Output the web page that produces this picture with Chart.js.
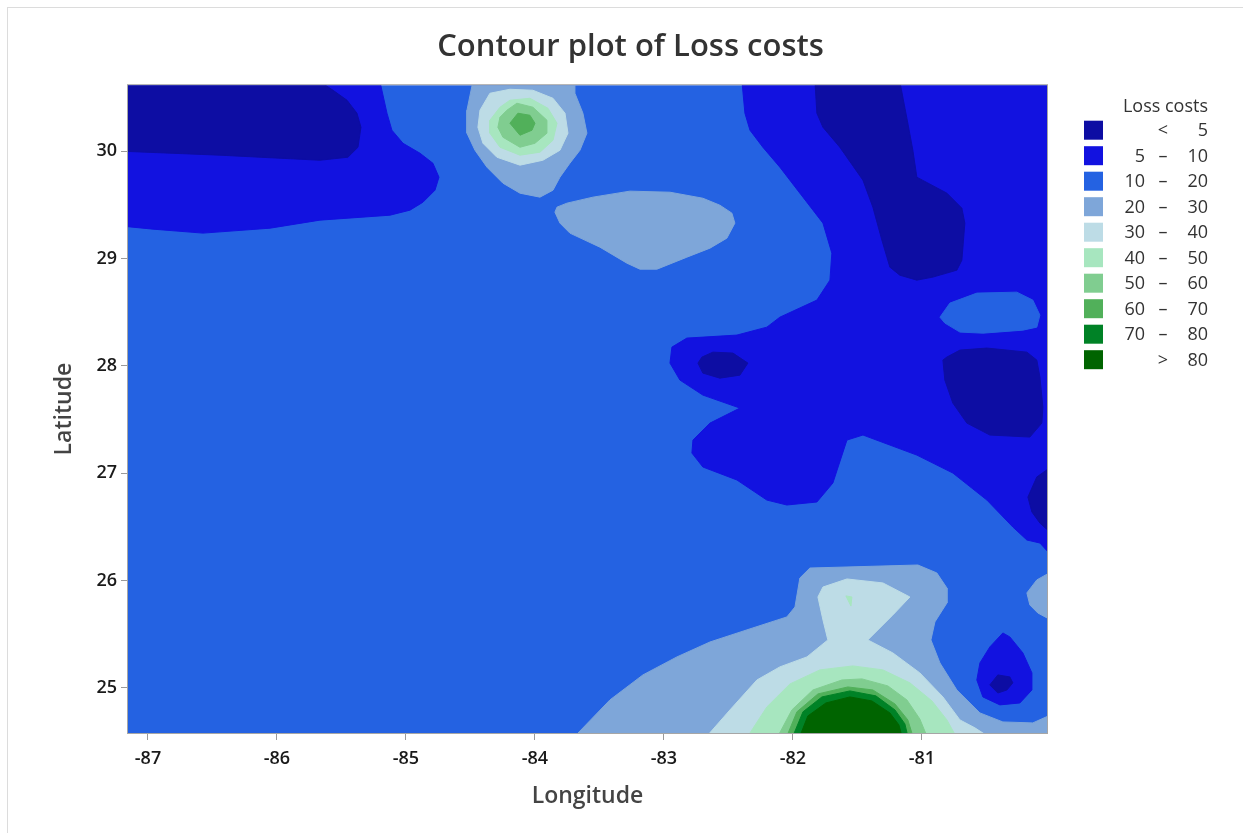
<!DOCTYPE html>
<html>
<head>
<meta charset="utf-8">
<title>Contour plot of Loss costs</title>
<script src="https://cdn.jsdelivr.net/npm/chart.js@4.4.1/dist/chart.umd.min.js"></script>
<style>
  html, body { margin: 0; padding: 0; background: #fff; overflow: hidden; }
  #frame { position: absolute; left: 7px; top: 7px; width: 1260px; height: 850px; border: 1px solid #dcdcdc; }
  #wrap { position: absolute; left: 0; top: 0; width: 1243px; height: 833px; }
</style>
</head>
<body>
<div id="frame"></div>
<div id="wrap"><canvas id="contour-chart"></canvas></div>
<script>
/*****************************************
 * 1. DATA (longitude, latitude outlines of each contour band)
 *****************************************/
const chartTitle = 'Contour plot of Loss costs';
const legendTitle = 'Loss costs';
const xTitle = 'Longitude';
const yTitle = 'Latitude';

const lonRange = [-87.155, -80.03];
const latRange = [24.58, 30.615];

// band labels: [low, sign, high]
const bandLabels = [
  ['', '<', '5'], ['5', '–', '10'], ['10', '–', '20'], ['20', '–', '30'], ['30', '–', '40'],
  ['40', '–', '50'], ['50', '–', '60'], ['60', '–', '70'], ['70', '–', '80'], ['', '>', '80']
];
const bandColors = ['#0d0da3', '#1212e0', '#2462e2', '#7ea6d9', '#bddce6',
                    '#a7e6bf', '#80cd90', '#51b05a', '#008226', '#006400'];

// whole domain, band 10-20
const domain = [[-87.2, 24.55], [-87.2, 30.65], [-80.0, 30.65], [-80.0, 24.55]];

// 5-10
const westLow = [[-87.2, 30.65], [-85.202, 30.65], [-85.147, 30.354], [-85.109, 30.196], [-85.023, 30.074],
  [-84.891, 29.981], [-84.791, 29.888], [-84.744, 29.758], [-84.775, 29.637], [-84.868, 29.525],
  [-84.969, 29.451], [-85.124, 29.404], [-85.667, 29.358], [-86.054, 29.283], [-86.574, 29.237],
  [-86.961, 29.274], [-87.2, 29.302]];
const eastLow = [[-82.395, 30.65], [-82.372, 30.354], [-82.333, 30.196], [-82.233, 30.037], [-82.101, 29.851],
  [-81.946, 29.609], [-81.767, 29.330], [-81.698, 29.050], [-81.713, 28.799], [-81.814, 28.613],
  [-82.101, 28.454], [-82.202, 28.361], [-82.434, 28.287], [-82.822, 28.259], [-82.938, 28.175],
  [-82.953, 28.026], [-82.876, 27.868], [-82.698, 27.728], [-82.411, 27.607], [-82.643, 27.467],
  [-82.775, 27.309], [-82.783, 27.188], [-82.698, 27.058], [-82.434, 26.937], [-82.202, 26.750],
  [-82.047, 26.704], [-81.814, 26.732], [-81.690, 26.909], [-81.581, 27.309], [-81.457, 27.356],
  [-81.039, 27.169], [-80.760, 27.002], [-80.496, 26.750], [-80.295, 26.499], [-80.186, 26.378],
  [-80.085, 26.350], [-80.0, 26.238], [-80.0, 30.65]];
const southEastLow = [[-80.372, 25.512], [-80.473, 25.382], [-80.550, 25.233], [-80.574, 25.074], [-80.527, 24.916],
  [-80.395, 24.842], [-80.240, 24.860], [-80.147, 24.981], [-80.147, 25.140], [-80.217, 25.326], [-80.318, 25.475]];

// 10-20 pocket inside the east low
const eastPocket = [[-80.860, 28.454], [-80.783, 28.585], [-80.574, 28.678], [-80.264, 28.687], [-80.140, 28.613],
  [-80.085, 28.473], [-80.109, 28.361], [-80.217, 28.333], [-80.527, 28.305], [-80.705, 28.315], [-80.822, 28.399]];

// < 5
const northWestMin = [[-87.2, 30.65], [-85.667, 30.65], [-85.566, 30.568], [-85.457, 30.475], [-85.380, 30.354],
  [-85.349, 30.223], [-85.372, 30.037], [-85.450, 29.944], [-85.667, 29.916], [-86.442, 29.963], [-87.2, 30.0]];
const northEastMin = [[-81.829, 30.65], [-81.814, 30.354], [-81.767, 30.223], [-81.636, 30.037], [-81.457, 29.730],
  [-81.380, 29.479], [-81.310, 29.171], [-81.248, 28.920], [-81.171, 28.845], [-81.039, 28.799],
  [-80.915, 28.827], [-80.729, 28.892], [-80.690, 28.985], [-80.667, 29.330], [-80.690, 29.469],
  [-80.806, 29.609], [-81.039, 29.758], [-81.070, 30.009], [-81.109, 30.261], [-81.171, 30.65]];
const centralMin = [[-82.736, 28.026], [-82.698, 27.933], [-82.566, 27.886], [-82.411, 27.914], [-82.349, 28.026],
  [-82.465, 28.119], [-82.620, 28.128], [-82.705, 28.082]];
const eastMin = [[-80.837, 28.054], [-80.822, 27.868], [-80.760, 27.654], [-80.651, 27.467], [-80.473, 27.356],
  [-80.163, 27.337], [-80.070, 27.467], [-80.062, 27.616], [-80.085, 27.896], [-80.109, 28.054],
  [-80.186, 28.128], [-80.496, 28.166], [-80.705, 28.147], [-80.806, 28.082]];
const coastMin = [[-80.0, 27.058], [-80.109, 26.965], [-80.178, 26.778], [-80.147, 26.639], [-80.085, 26.536], [-80.0, 26.443]];
const southEastMin = [[-80.473, 25.028], [-80.411, 25.121], [-80.318, 25.102], [-80.295, 25.047], [-80.341, 24.981], [-80.411, 24.953]];

// north peak rings (> 20 ... > 60)
const northRing20 = [[-84.481, 30.65], [-84.527, 30.382], [-84.527, 30.168], [-84.465, 30.009], [-84.372, 29.851],
  [-84.248, 29.702], [-84.116, 29.609], [-83.961, 29.572], [-83.860, 29.637], [-83.806, 29.758],
  [-83.729, 29.888], [-83.651, 30.009], [-83.597, 30.168], [-83.628, 30.354], [-83.690, 30.540], [-83.690, 30.65]];
const northRing30 = [[-84.349, 30.540], [-84.426, 30.382], [-84.442, 30.223], [-84.403, 30.074], [-84.295, 29.944],
  [-84.116, 29.870], [-83.938, 29.916], [-83.806, 30.009], [-83.744, 30.168], [-83.767, 30.354],
  [-83.860, 30.493], [-84.016, 30.568], [-84.194, 30.577]];
const northRing40 = [[-84.271, 30.410], [-84.349, 30.289], [-84.349, 30.168], [-84.271, 30.037], [-84.116, 29.963],
  [-83.961, 29.991], [-83.860, 30.102], [-83.829, 30.261], [-83.899, 30.400], [-84.039, 30.493], [-84.194, 30.475]];
const northRing50 = [[-84.271, 30.317], [-84.287, 30.223], [-84.248, 30.130], [-84.116, 30.037], [-84.0, 30.074],
  [-83.907, 30.168], [-83.907, 30.289], [-84.016, 30.410], [-84.140, 30.447], [-84.217, 30.382]];
const northRing60 = [[-84.194, 30.261], [-84.116, 30.149], [-84.023, 30.196], [-84.0, 30.261], [-84.039, 30.335], [-84.132, 30.354]];

// 20-30 island in the middle
const midIsland20 = [[-83.829, 29.479], [-83.845, 29.432], [-83.806, 29.330], [-83.729, 29.237], [-83.496, 29.106],
  [-83.287, 28.957], [-83.186, 28.901], [-83.054, 28.901], [-82.822, 29.013], [-82.643, 29.097],
  [-82.512, 29.190], [-82.450, 29.330], [-82.473, 29.423], [-82.566, 29.497], [-82.698, 29.562],
  [-82.953, 29.618], [-83.264, 29.628], [-83.550, 29.572], [-83.752, 29.516]];

// south peak rings (> 20 ... > 80)
const southRing20 = [[-83.690, 24.55], [-83.419, 24.888], [-83.163, 25.121], [-82.899, 25.289], [-82.643, 25.428],
  [-82.310, 25.559], [-82.047, 25.661], [-81.984, 25.754], [-81.946, 26.024], [-81.868, 26.117],
  [-81.031, 26.145], [-80.884, 26.071], [-80.806, 25.931], [-80.806, 25.791], [-80.899, 25.615],
  [-80.930, 25.447], [-80.860, 25.233], [-80.729, 24.981], [-80.550, 24.767], [-80.372, 24.683],
  [-80.140, 24.674], [-80.0, 24.749], [-80.0, 24.55]];
const coastPatch20 = [[-80.0, 26.080], [-80.109, 26.006], [-80.186, 25.885], [-80.163, 25.773], [-80.101, 25.698], [-80.0, 25.633]];
const southRing30 = [[-82.667, 24.55], [-82.488, 24.795], [-82.279, 25.074], [-82.101, 25.196], [-81.891, 25.289],
  [-81.729, 25.447], [-81.767, 25.633], [-81.806, 25.847], [-81.767, 25.940], [-81.581, 26.015],
  [-81.302, 25.978], [-81.093, 25.847], [-81.225, 25.680], [-81.419, 25.447], [-81.225, 25.326],
  [-81.016, 25.140], [-80.837, 24.916], [-80.705, 24.702], [-80.589, 24.628], [-80.488, 24.55]];
const southSpeck40 = [[-81.589, 25.857], [-81.543, 25.847], [-81.550, 25.763]];
const southRing40 = [[-82.349, 24.55], [-82.202, 24.823], [-82.023, 25.037], [-81.791, 25.168], [-81.535, 25.205],
  [-81.302, 25.168], [-81.093, 25.047], [-80.922, 24.879], [-80.806, 24.702], [-80.736, 24.55]];
const southRing50 = [[-82.116, 24.55], [-82.008, 24.795], [-81.845, 24.981], [-81.620, 25.074], [-81.465, 25.084],
  [-81.264, 25.019], [-81.116, 24.888], [-81.016, 24.711], [-80.961, 24.55]];
const southRing60 = [[-82.047, 24.55], [-81.969, 24.777], [-81.806, 24.944], [-81.574, 25.009], [-81.380, 24.981],
  [-81.209, 24.851], [-81.109, 24.702], [-81.070, 24.55]];
const southRing70 = [[-82.0, 24.55], [-81.922, 24.777], [-81.775, 24.916], [-81.558, 24.972], [-81.357, 24.926],
  [-81.209, 24.795], [-81.132, 24.665], [-81.109, 24.55]];
const southRing80 = [[-81.946, 24.55], [-81.884, 24.739], [-81.744, 24.860], [-81.558, 24.916], [-81.388, 24.879],
  [-81.248, 24.767], [-81.178, 24.655], [-81.155, 24.55]];

// drawing order, bottom first: [band index, outline]
const contourLayers = [
  [2, domain],
  [1, westLow], [1, eastLow],
  [2, eastPocket],
  [0, northWestMin], [0, northEastMin], [0, centralMin], [0, eastMin], [0, coastMin],
  [3, northRing20], [3, midIsland20], [3, southRing20], [3, coastPatch20],
  [4, northRing30], [4, southRing30],
  [5, northRing40], [5, southRing40], [5, southSpeck40],
  [6, northRing50], [6, southRing50],
  [7, northRing60], [7, southRing60],
  [8, southRing70],
  [9, southRing80],
  [1, southEastLow], [0, southEastMin]
];

/*****************************************
 * 2. PLUGINS (plot frame + band legend)
 *****************************************/
const fontFamily = "'Open Sans', 'Noto Sans', sans-serif";

const frameAndLegend = {
  id: 'frameAndLegend',
  afterDatasetsDraw(chart) {
    const {ctx, chartArea: a} = chart;
    ctx.save();
    ctx.strokeStyle = '#a6a6a6';
    ctx.lineWidth = 1;
    ctx.strokeRect(a.left - 0.5, a.top - 0.5, a.right - a.left + 1, a.bottom - a.top + 1);
    ctx.restore();
  },
  afterDraw(chart) {
    const {ctx, chartArea: a} = chart;
    const boxX = a.right + 37;
    ctx.save();
    ctx.textBaseline = 'middle';
    ctx.fillStyle = '#333';
    ctx.font = '500 18px ' + fontFamily;
    ctx.textAlign = 'right';
    ctx.fillText(legendTitle, a.right + 161, a.top + 22);

    ctx.font = '18px ' + fontFamily;
    bandLabels.forEach((lab, i) => {
      const y = a.top + 45 + i * 25.5;
      ctx.fillStyle = bandColors[i];
      ctx.fillRect(boxX, y - 9.5, 19, 19);
      ctx.fillStyle = '#333';
      ctx.textAlign = 'right';
      ctx.fillText(lab[0], a.right + 98, y + 1);
      ctx.fillText(lab[2], a.right + 161, y + 1);
      ctx.textAlign = 'center';
      ctx.fillText(lab[1], a.right + 116, y + 1);
    });
    ctx.restore();
  }
};

/*****************************************
 * 3. CHART
 *****************************************/
const datasets = contourLayers.map(([band, outline], i) => ({
  data: outline.concat([outline[0]]).map(([lon, lat]) => ({x: lon, y: lat})),
  backgroundColor: bandColors[band],
  borderColor: bandColors[band],
  borderWidth: 1,
  pointRadius: 0,
  tension: 0,
  fill: 'shape',
  clip: 0,
  order: contourLayers.length - i
}));

const axisGrid = { display: true, drawOnChartArea: false, drawTicks: true, tickLength: 7, color: '#9a9a9a' };
const tickFont = { family: fontFamily, size: 18, weight: '600' };
const axisTitleFont = { family: fontFamily, size: 23, weight: '600' };

new Chart(document.getElementById('contour-chart'), {
  type: 'line',
  data: { datasets },
  options: {
    responsive: true,
    maintainAspectRatio: false,
    animation: false,
    events: [],
    layout: { padding: { left: 18, right: 0, top: 0, bottom: 0 } },
    plugins: {
      legend: { display: false },
      tooltip: { enabled: false },
      title: {
        display: true,
        text: chartTitle,
        color: '#333',
        font: { family: fontFamily, size: 31, weight: '600' },
        padding: { top: 29, bottom: 19 }
      }
    },
    scales: {
      x: {
        type: 'linear',
        min: lonRange[0],
        max: lonRange[1],
        grid: axisGrid,
        border: { display: true, color: '#9a9a9a' },
        ticks: {
          stepSize: 1, includeBounds: false, padding: 8, color: '#1a1a1a',
          font: tickFont,
          callback: v => String(v)
        },
        title: { display: true, text: xTitle, color: '#444', font: axisTitleFont, padding: { top: 0, bottom: 23 } },
        afterFit(s) { s.height = 100; }
      },
      y: {
        type: 'linear',
        min: latRange[0],
        max: latRange[1],
        grid: axisGrid,
        border: { display: true, color: '#9a9a9a' },
        ticks: {
          stepSize: 1, includeBounds: false, padding: 4, color: '#1a1a1a',
          font: tickFont,
          callback: v => String(v)
        },
        title: { display: true, text: yTitle, color: '#444', font: axisTitleFont, padding: { top: 33, bottom: 0 } },
        afterFit(s) { s.width = 110; }
      },
      // keeps room on the right for the band legend
      legendSpace: {
        type: 'linear',
        position: 'right',
        display: true,
        grid: { display: false },
        border: { display: false },
        ticks: { display: false },
        afterFit(s) { s.width = 196; }
      }
    }
  },
  plugins: [frameAndLegend]
});
</script>
</body>
</html>
